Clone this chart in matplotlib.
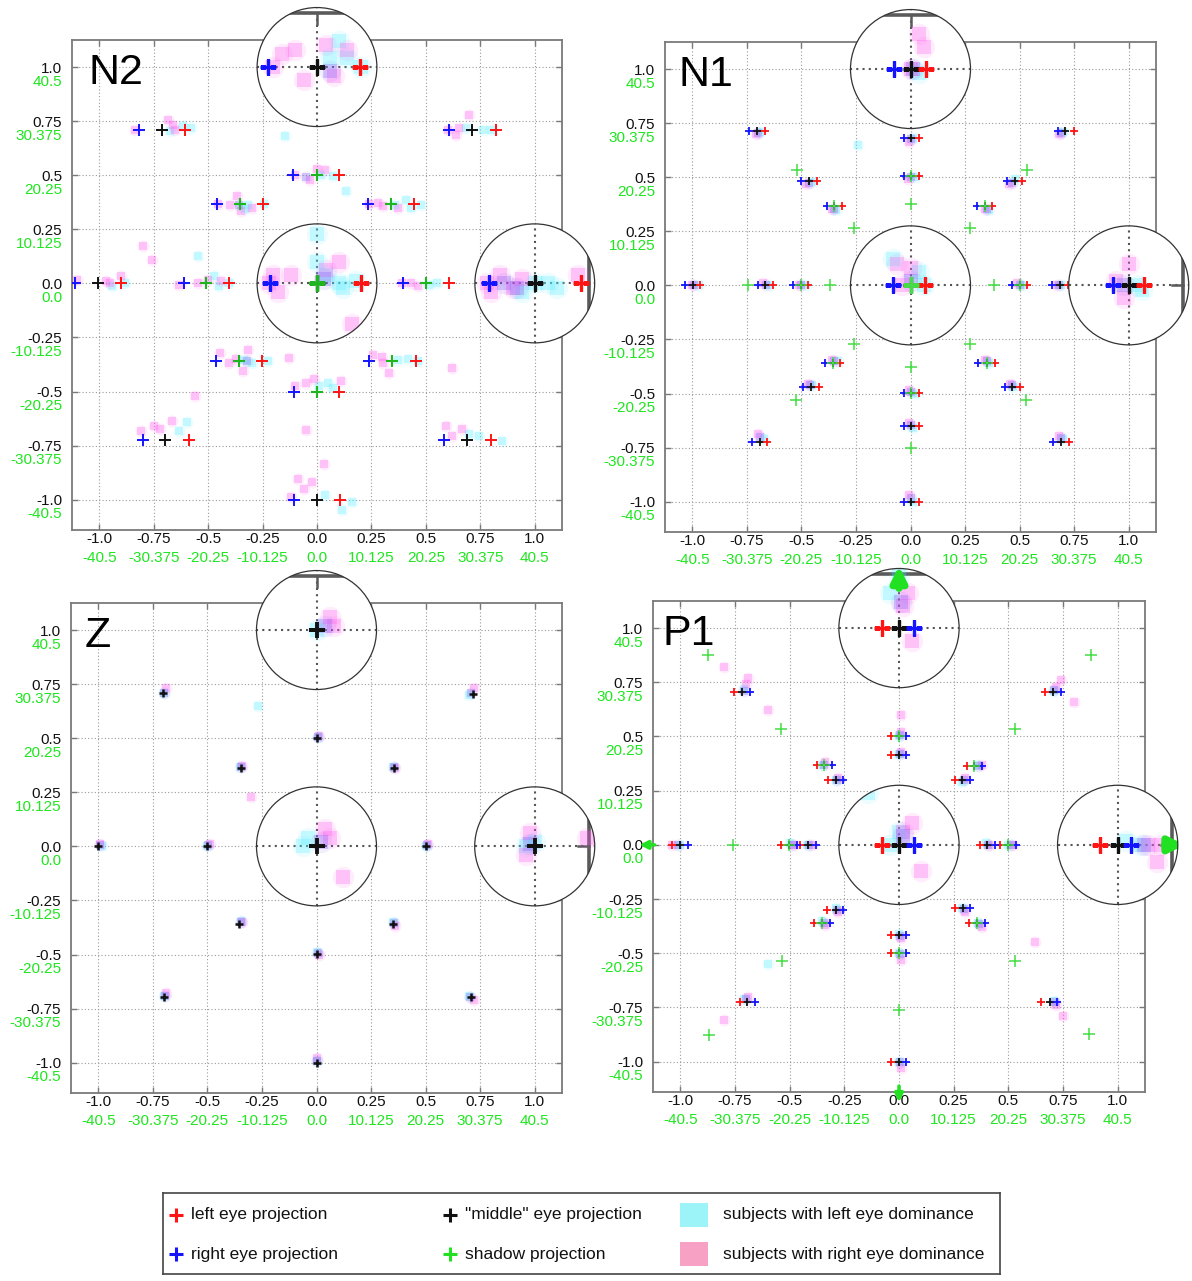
# Eye projection maps for the four disparity conditions (N2, N1, Z, P1)

import matplotlib
matplotlib.use('Agg')
import matplotlib.pyplot as plt
from matplotlib.patches import Circle, Rectangle, FancyArrowPatch
from matplotlib.transforms import offset_copy

plt.rcParams['font.family'] = ['Liberation Sans', 'DejaVu Sans']

W, H = 1192, 1281

TICKS = [-1.0, -0.75, -0.5, -0.25, 0.0, 0.25, 0.5, 0.75, 1.0]
TICK_LABELS = ['-1.0', '-0.75', '-0.5', '-0.25', '0.0', '0.25', '0.5', '0.75', '1.0']
DEG_LABELS = ['-40.5', '-30.375', '-20.25', '-10.125', '0.0', '10.125', '20.25', '30.375', '40.5']

XLIM = (-1.125, 1.125)
YLIM = (-1.14, 1.125)
LENS_CENTRES = [(0.0, 1.0), (0.0, 0.0), (1.0, 0.0)]
LENS_R = 0.275
MAG = 2.0

RED, BLUE, BLACK = '#ff1414', '#1414ff', '#111111'
TXT_GREEN = '#1fe61f'
CYAN, PINK, BOTH = '#55eeff', '#ff55ee', '#7a5cf5'

# ---------------- N2 ----------------
N2_MID = [(-1.005, 0), (-0.508, 0), (0, 0), (0.5, 0), (1.0, 0), (0, 1.0), (0, 0.5),
          (-0.353, 0.368), (0.338, 0.368), (-0.712, 0.707), (0.714, 0.707),
          (-0.359, -0.36), (0.345, -0.36), (0, -0.5), (-0.696, -0.724), (0.691, -0.724), (0, -1.0)]
N2_LEFT = [(-0.9, 0), (-0.402, 0), (0.1, 0), (0.608, 0), (1.106, 0), (0.099, 1.0), (0.103, 0.5),
           (-0.247, 0.368), (0.444, 0.368), (-0.605, 0.707), (0.822, 0.707),
           (-0.254, -0.36), (0.453, -0.36), (0.103, -0.5), (-0.589, -0.724), (0.797, -0.724), (0.107, -1.0)]
N2_RIGHT = [(-1.109, 0), (-0.61, 0), (-0.109, 0), (0.395, 0), (0.894, 0), (-0.113, 1.0), (-0.109, 0.5),
            (-0.458, 0.368), (0.236, 0.368), (-0.816, 0.707), (0.608, 0.707),
            (-0.465, -0.36), (0.237, -0.36), (-0.107, -0.5), (-0.8, -0.724), (0.585, -0.724), (-0.107, -1.0)]
N2_SHADOW = [(-0.508, 0), (0, 0), (0.5, 0), (0, 0.5), (-0.353, 0.368), (0.338, 0.368),
             (-0.359, -0.36), (0.345, -0.36), (0, -0.5)]
N2_CYAN = [(-0.615, 0.726), (-0.58, 0.718), (-0.677, 0.703), (0.682, 0.718), (0.762, 0.71), (0.797, 0.707),
           (-0.147, 0.68), (0.02, 0.502), (0.073, 0.495), (0.135, 0.425), (-0.315, 0.364), (-0.244, 0.368),
           (-0.33, 0.345), (0.356, 0.364), (0.479, 0.364), (0.409, 0.387), (0.43, 0.35), (-0.545, 0.125),
           (-0.942, -0.014), (-0.88, 0.0), (-0.474, 0.032), (-0.403, 0.0), (-0.45, -0.01), (0.515, -0.006),
           (0.55, 0.0), (-0.333, -0.352), (-0.227, -0.36), (-0.3, -0.37), (0.373, -0.352), (0.462, -0.36),
           (0.42, -0.35), (0.011, -0.475), (0.073, -0.482), (0.05, -0.46), (-0.633, -0.681), (-0.598, -0.643),
           (0.7, -0.697), (0.744, -0.704), (0.85, -0.727), (0.038, -0.98), (0.117, -1.049), (0.162, -1.01),
           (0.05, 1.06), (0.1, 1.0), (0.07, 1.02), (0.03, 1.02), (0.0, 0.05), (0.02, 0.02), (0.05, 0.0),
           (0.06, -0.01), (0.0, 0.115), (0.09, 0.005), (1.0, 0.0), (1.03, 0.0), (1.05, -0.01), (0.97, -0.02)]
N2_PINK = [(-0.835, 0.707), (-0.686, 0.757), (-0.65, 0.707), (-0.66, 0.73), (0.603, 0.707), (0.638, 0.687),
           (0.70, 0.78), (0.65, 0.72), (-0.103, 0.502), (-0.033, 0.479), (0.038, 0.525), (0.0, 0.53),
           (-0.456, 0.368), (-0.368, 0.402), (-0.35, 0.333), (-0.297, 0.348), (-0.4, 0.36), (0.241, 0.368),
           (0.303, 0.356), (0.373, 0.348), (0.28, 0.37), (-0.8, 0.171), (-0.756, 0.11), (-1.1, 0.017),
           (-0.95, 0.0), (-0.9, 0.032), (-0.97, 0.01), (-0.633, -0.006), (-0.545, 0.0), (-0.44, 0.01),
           (-0.5, 0.015), (0.391, 0.0), (0.462, -0.014), (0.43, 0.0), (-0.447, -0.32), (-0.403, -0.368),
           (-0.315, -0.306), (-0.341, -0.406), (-0.37, -0.35), (0.259, -0.329), (0.303, -0.368),
           (0.33, -0.413), (0.3, -0.34), (-0.103, -0.475), (-0.05, -0.46), (-0.015, -0.444), (0.108, -0.452),
           (-0.562, -0.52), (-0.13, -0.345), (0.62, -0.39), (-0.05, -0.68), (0.03, -0.835), (-0.809, -0.681),
           (-0.721, -0.674), (-0.668, -0.636), (-0.75, -0.66), (0.594, -0.658), (0.665, -0.674), (0.62, -0.704),
           (-0.121, -0.988), (-0.086, -0.903), (-0.024, -0.919), (-0.06, -0.95), (-0.1, 1.0), (-0.05, 1.04),
           (0.02, 1.05), (0.07, 1.04), (-0.03, 0.97), (0.04, 0.98), (-0.08, 1.03), (-0.11, 0.0), (-0.09, -0.02),
           (-0.06, 0.02), (0.02, 0.03), (0.05, 0.05), (0.08, -0.095), (-0.1, 0.02), (0.89, 0.0), (0.92, 0.02),
           (0.95, -0.01), (0.97, 0.01), (1.1, 0.02), (0.9, -0.02)]
N2_BOTH = [(0.015, 0.01), (0.96, -0.01), (0.03, 0.99), (-0.36, 0.36), (-0.05, 0.49), (-0.32, -0.36), (0.93, 0.0)]

# ---------------- N1 ----------------
N1_MID = [(-0.998, 0), (-0.665, 0), (-0.502, 0), (0, 0), (0.5, 0), (0.684, 0), (1.0, 0), (0, 1.0), (0, 0.681),
          (0, 0.505), (-0.705, 0.712), (0.71, 0.712), (-0.466, 0.484), (0.478, 0.484), (-0.35, 0.365),
          (0.341, 0.365), (-0.355, -0.359), (0.35, -0.359), (-0.457, -0.469), (0.466, -0.469), (0, -0.498),
          (0, -0.65), (-0.691, -0.724), (0.689, -0.724), (0, -1.0)]
N1_LEFT = [(-0.964, 0), (-0.629, 0), (-0.469, 0), (0.034, 0), (0.535, 0), (0.72, 0), (1.035, 0), (0.035, 1.0),
           (0.037, 0.681), (0.037, 0.505), (-0.669, 0.712), (0.747, 0.712), (-0.43, 0.484), (0.511, 0.484),
           (-0.315, 0.365), (0.375, 0.365), (-0.321, -0.359), (0.385, -0.359), (-0.42, -0.469), (0.502, -0.469),
           (0.037, -0.498), (0.037, -0.65), (-0.656, -0.724), (0.726, -0.724), (0.037, -1.0)]
N1_RIGHT = [(-1.033, 0), (-0.7, 0), (-0.539, 0), (-0.039, 0), (0.466, 0), (0.648, 0), (0.963, 0), (-0.037, 1.0),
            (-0.032, 0.681), (-0.032, 0.505), (-0.742, 0.712), (0.676, 0.712), (-0.5, 0.484), (0.443, 0.484),
            (-0.384, 0.365), (0.306, 0.365), (-0.391, -0.359), (0.311, -0.359), (-0.492, -0.469),
            (0.433, -0.469), (-0.032, -0.498), (-0.032, -0.65), (-0.726, -0.724), (0.653, -0.724), (-0.032, -1.0)]
N1_SHADOW = [(-0.745, 0), (-0.502, 0), (-0.37, 0), (0, 0), (0.383, 0), (0.5, 0), (0, 0.505), (-0.35, 0.365),
             (0.341, 0.365), (-0.355, -0.359), (0.35, -0.359), (0, -0.498), (-0.521, 0.532), (0.532, 0.532),
             (0, 0.376), (-0.261, 0.265), (0.271, 0.265), (-0.261, -0.271), (0.271, -0.271), (0, -0.379),
             (-0.526, -0.528), (0.528, -0.528), (0, -0.753)]
N1_CYAN = [(-0.69, 0.71), (0.70, 0.71), (0.01, 0.68), (0.02, 0.5), (-0.45, 0.48), (0.48, 0.49), (-0.34, 0.35),
           (0.36, 0.35), (-0.97, 0.0), (-0.65, 0.0), (-0.48, 0.0), (0.51, 0.0), (0.69, 0.0), (-0.33, -0.35),
           (0.36, -0.36), (-0.45, -0.46), (0.47, -0.47), (0.02, -0.5), (0.01, -0.66), (-0.67, -0.71),
           (0.70, -0.71), (0.01, -1.0), (-0.24, 0.65), (0.02, 0.99), (0.03, 0.0), (0.02, 0.03), (-0.04, 0.06),
           (1.02, 0.0), (1.03, -0.01)]
N1_PINK = [(-0.71, 0.70), (0.68, 0.70), (-0.005, 0.665), (-0.01, 0.49), (-0.48, 0.47), (0.45, 0.47),
           (-0.36, 0.355), (0.34, 0.355), (-1.0, 0.0), (-0.675, 0.01), (-0.51, 0.0), (0.49, 0.01), (0.665, 0.0),
           (-0.36, -0.345), (0.34, -0.345), (-0.47, -0.455), (0.455, -0.455), (-0.005, -0.485),
           (-0.005, -0.635), (-0.7, -0.685), (0.68, -0.695), (-0.005, -0.97), (0.0, 1.0), (0.03, 1.05),
           (0.02, 1.08), (-0.02, 0.0), (0.0, 0.04), (-0.03, 0.05), (0.97, 0.01), (1.0, 0.05), (0.99, -0.03)]
N1_BOTH = [(-0.70, 0.705), (0.69, 0.705), (0.0, 0.675), (0.0, 0.5), (-0.465, 0.475), (0.465, 0.475),
           (-0.35, 0.355), (0.35, 0.355), (-0.99, 0.0), (-0.66, 0.0), (-0.5, 0.0), (0.5, 0.0), (0.68, 0.0),
           (-0.35, -0.35), (0.35, -0.35), (-0.46, -0.46), (0.465, -0.46), (0.0, -0.495), (0.0, -0.645),
           (-0.69, -0.7), (0.69, -0.705), (0.0, -0.985), (0.005, 1.0), (0.0, 0.01), (0.99, 0.0)]

# ---------------- Z ----------------
Z_MID = [(-0.703, 0.709), (0.715, 0.706), (0, 0.503), (-0.346, 0.36), (0.353, 0.36), (-1.0, 0), (-0.5, 0),
         (0, 0), (0.503, 0), (1.0, 0), (0, 1.0), (-0.355, -0.36), (0.351, -0.36), (0, -0.499), (-0.7, -0.698),
         (0.71, -0.698), (0, -1.0)]
Z_CYAN = [(-0.7, 0.71), (0.7, 0.7), (0.005, 0.505), (-0.35, 0.365), (0.35, 0.365), (-0.985, 0.0), (-0.5, 0.0),
          (0.5, 0.0), (-0.345, -0.345), (0.35, -0.35), (0.0, -0.49), (-0.7, -0.69), (0.7, -0.69), (0.0, -0.99),
          (-0.27, 0.65), (0.0, 1.0), (-0.02, 0.02), (-0.03, 0.0), (1.0, 0.01), (0.98, 0.0)]
Z_PINK = [(-0.69, 0.73), (0.72, 0.73), (0.01, 0.51), (-0.34, 0.37), (0.36, 0.36), (-0.99, 0.01), (-0.49, 0.01),
          (0.51, 0.01), (-0.34, -0.35), (0.36, -0.37), (0.01, -0.5), (-0.69, -0.68), (0.72, -0.71), (0.0, -0.98),
          (-0.3, 0.23), (0.03, 1.03), (0.04, 1.01), (0.03, 0.02), (0.02, 0.04), (0.06, -0.07), (0.99, 0.03),
          (1.12, 0.02), (0.98, -0.02)]
Z_BOTH = [(-0.7, 0.71), (0.71, 0.71), (0.005, 0.505), (-0.345, 0.365), (0.355, 0.365), (-0.99, 0.005),
          (-0.495, 0.005), (0.505, 0.005), (-0.345, -0.35), (0.355, -0.355), (0.005, -0.495), (-0.695, -0.69),
          (0.705, -0.695), (0.0, -0.99), (0.02, 1.01), (0.01, 0.01), (0.99, 0.005)]

# ---------------- P1 ----------------
P1_MID = [(-1.0, 0), (-0.505, 0), (-0.414, 0), (0, 0), (0.404, 0), (0.5, 0), (1.0, 0), (0, 1.0), (0, 0.502),
          (0, 0.416), (-0.341, 0.37), (0.345, 0.362), (-0.289, 0.299), (0.289, 0.299), (-0.717, 0.707),
          (0.703, 0.707), (-0.29, -0.299), (0.291, -0.29), (-0.352, -0.36), (0.355, -0.362), (0, -0.416),
          (0, -0.5), (-0.694, -0.724), (0.689, -0.724), (0, -1.0)]
P1_LEFT = [(-1.036, 0), (-0.54, 0), (-0.451, 0), (-0.04, 0), (0.369, 0), (0.463, 0), (0.96, 0), (-0.04, 1.0),
           (-0.037, 0.502), (-0.037, 0.416), (-0.376, 0.37), (0.31, 0.362), (-0.324, 0.299), (0.254, 0.299),
           (-0.755, 0.707), (0.668, 0.707), (-0.327, -0.299), (0.254, -0.29), (-0.388, -0.36), (0.318, -0.362),
           (-0.037, -0.416), (-0.037, -0.5), (-0.729, -0.724), (0.651, -0.724), (-0.037, -1.0)]
P1_RIGHT = [(-0.965, 0), (-0.467, 0), (-0.38, 0), (0.035, 0), (0.44, 0), (0.536, 0), (1.03, 0), (0.035, 1.0),
            (0.034, 0.502), (0.034, 0.416), (-0.307, 0.37), (0.38, 0.362), (-0.255, 0.299), (0.324, 0.299),
            (-0.68, 0.707), (0.739, 0.707), (-0.257, -0.299), (0.324, -0.29), (-0.315, -0.36), (0.392, -0.362),
            (0.034, -0.416), (0.034, -0.5), (-0.659, -0.724), (0.724, -0.724), (0.034, -1.0)]
P1_SHADOW = [(-0.758, 0), (-0.505, 0), (0.5, 0), (0, 0.502), (-0.341, 0.37), (0.345, 0.362), (-0.352, -0.36),
             (0.355, -0.362), (0, -0.5), (-0.54, 0.533), (0.531, 0.536), (-0.875, 0.875), (0.878, 0.878),
             (-0.534, -0.537), (0.531, -0.537), (-0.871, -0.877), (0.87, -0.874), (0, -0.762)]
# shadows falling outside the screen, drawn as arrows (tail, head)
P1_SHADOW_OUT = [((-1.105, 0.0), (-1.2, 0.0)), ((0.0, -1.1), (0.0, -1.2)),
                 ((0.0, 1.085), (0.0, 1.15)), ((1.1, 0.0), (1.16, 0.0))]
P1_CYAN = [(-0.71, 0.72), (0.71, 0.71), (0.0, 0.5), (0.0, 0.42), (-0.35, 0.37), (-0.29, 0.30), (0.36, 0.37),
           (0.29, 0.29), (-1.0, 0.0), (-0.5, 0.01), (-0.42, 0.0), (0.40, 0.01), (0.5, 0.0), (-0.29, -0.29),
           (0.29, -0.29), (-0.35, -0.35), (0.36, -0.36), (0.0, -0.41), (0.0, -0.5), (-0.71, -0.71),
           (0.71, -0.72), (0.0, -1.0), (-0.6, -0.55), (-0.02, 0.0), (0.0, 0.03), (-0.07, 0.12), (-0.02, 1.08),
           (0.0, 1.12), (1.02, 0.01), (1.05, 0.0)]
P1_PINK = [(-0.7, 0.74), (-0.69, 0.77), (0.72, 0.73), (0.74, 0.76), (0.01, 0.52), (0.01, 0.43), (-0.34, 0.38),
           (-0.28, 0.31), (0.38, 0.37), (0.3, 0.31), (-1.04, 0.0), (-0.48, 0.0), (-0.4, 0.0), (0.41, 0.0),
           (0.52, 0.0), (-0.28, -0.31), (0.3, -0.31), (-0.34, -0.37), (0.38, -0.38), (0.01, -0.43),
           (0.01, -0.53), (-0.69, -0.7), (0.72, -0.74), (0.75, -0.79), (0.01, -1.03), (-0.8, 0.82),
           (0.8, 0.66), (-0.6, 0.62), (0.01, 0.6), (-0.8, -0.81), (0.62, -0.45), (0.01, 0.03), (0.03, 0.05),
           (0.05, -0.06), (0.01, 1.05), (0.02, 1.08), (0.03, 0.97), (1.1, 0.0), (1.07, 0.0), (1.09, -0.04)]
P1_BOTH = [(-0.71, 0.71), (0.71, 0.715), (0.005, 0.505), (0.005, 0.42), (-0.345, 0.37), (-0.285, 0.3),
           (0.36, 0.365), (0.295, 0.3), (-1.01, 0.0), (-0.49, 0.0), (-0.41, 0.0), (0.405, 0.0), (0.51, 0.0),
           (-0.285, -0.3), (0.295, -0.295), (-0.345, -0.36), (0.365, -0.365), (0.005, -0.42), (0.005, -0.505),
           (-0.7, -0.71), (0.715, -0.725), (0.005, -1.0), (0.01, 0.02), (0.005, 1.06), (1.06, 0.0)]

LEGEND_LABELS = ['left eye projection', 'right eye projection', '"middle" eye projection',
                 'shadow projection', 'subjects with left eye dominance', 'subjects with right eye dominance']


def near(pts, c, reach):
    out = []
    for x, y in pts:
        if (x - c[0]) ** 2 + (y - c[1]) ** 2 < reach ** 2:
            out.append((c[0] + MAG * (x - c[0]), c[1] + MAG * (y - c[1])))
    return out


def blobs(ax, pts, color, scale=1.0, z=2, **kw):
    if not pts:
        return
    x, y = zip(*pts)
    # soft halo + core, imitating the blurred density squares
    ax.scatter(x, y, s=75 * scale, marker='o', color=color, alpha=0.10, lw=0, zorder=z, **kw)
    ax.scatter(x, y, s=28 * scale, marker='s', color=color, alpha=0.28, lw=0, zorder=z + 0.1, **kw)


def crosses(ax, pts, color, ms, mew, z, **kw):
    if not pts:
        return
    x, y = zip(*pts)
    ax.plot(x, y, ls='none', marker='+', color=color, ms=ms, mew=mew, zorder=z, **kw)


def draw_panel(ax, name, lx, mid, left, right, shadow, cyan, pink, both, ms, mew,
               lens_ms, lens_mew, shadow_style, out_arrows=None):
    ax.set_autoscale_on(False)
    ax.set_xlim(*XLIM)
    ax.set_ylim(*YLIM)

    blobs(ax, cyan, CYAN)
    blobs(ax, pink, PINK)
    blobs(ax, both, BOTH)
    crosses(ax, mid, BLACK, ms, mew, 3)
    crosses(ax, shadow, shadow_style[0], shadow_style[1], shadow_style[2], 4)
    crosses(ax, left, RED, ms, mew, 3)
    crosses(ax, right, BLUE, ms, mew, 3)

    if out_arrows:
        for tail, head in out_arrows[:2]:
            ax.add_patch(FancyArrowPatch(tail, head, arrowstyle='-|>', mutation_scale=12, lw=2.5,
                                         color='#22e022', clip_on=False, zorder=6))

    ax.grid(True, ls=(0, (1, 2)), color='#9a9a9a', lw=0.8)
    ax.set_axisbelow(True)
    for s in ax.spines.values():
        s.set_color('#7a7a7a')
        s.set_linewidth(1.3)
    ax.set_xticks(TICKS, TICK_LABELS)
    ax.set_yticks(TICKS, TICK_LABELS)
    ax.tick_params(direction='in', length=4, width=1, color='#7a7a7a', top=True, right=True,
                   labelsize=11, labelcolor='#111111')
    ax.tick_params(axis='x', pad=1.5)
    ax.tick_params(axis='y', pad=7)

    fig = ax.figure
    xtr = offset_copy(ax.get_xaxis_transform(), fig=fig, x=0, y=-20, units='points')
    ytr = offset_copy(ax.get_yaxis_transform(), fig=fig, x=-7, y=-10.5, units='points')
    for v, lab in zip(TICKS, DEG_LABELS):
        ax.text(v, 0, lab, transform=xtr, ha='center', va='center', color=TXT_GREEN, fontsize=11)
        ax.text(0, v, lab, transform=ytr, ha='right', va='center', color=TXT_GREEN, fontsize=11)

    ax.text(lx, 0.91, name, transform=ax.transAxes, fontsize=31, va='baseline', ha='left',
            color='black', zorder=30)

    # magnifying lenses
    reach = LENS_R / MAG + 0.04
    for c in LENS_CENTRES:
        circ = Circle(c, LENS_R, facecolor='white', edgecolor='none', zorder=10, clip_on=False)
        ax.add_patch(circ)
        kw = dict(clip_path=circ)
        for t in TICKS:
            m = c[0] + MAG * (t - c[0])
            if abs(m - c[0]) < LENS_R:
                ax.plot([m, m], [c[1] - LENS_R, c[1] + LENS_R], ls=(0, (1, 2)), color='#555555',
                        lw=1.5, zorder=11, **kw)
            m = c[1] + MAG * (t - c[1])
            if abs(m - c[1]) < LENS_R:
                ax.plot([c[0] - LENS_R, c[0] + LENS_R], [m, m], ls=(0, (1, 2)), color='#555555',
                        lw=1.5, zorder=11, **kw)
        # frame of the screen, magnified
        for b in XLIM:
            m = c[0] + MAG * (b - c[0])
            if abs(m - c[0]) < LENS_R:
                ax.plot([m, m], [c[1] - LENS_R, c[1] + LENS_R], color='#5a5a5a', lw=2.6, zorder=11, **kw)
                ax.plot([m, m - 0.05 * (1 if b > 0 else -1)], [c[1], c[1]], color='#5a5a5a', lw=1.8,
                        zorder=11, **kw)
        for b in YLIM:
            m = c[1] + MAG * (b - c[1])
            if abs(m - c[1]) < LENS_R:
                ax.plot([c[0] - LENS_R, c[0] + LENS_R], [m, m], color='#5a5a5a', lw=2.6, zorder=11, **kw)
                ax.plot([c[0], c[0]], [m, m - 0.05 * (1 if b > 0 else -1)], color='#5a5a5a', lw=1.8,
                        zorder=11, **kw)
        blobs(ax, near(cyan, c, reach), CYAN, scale=3.2, z=11.2, **kw)
        blobs(ax, near(pink, c, reach), PINK, scale=3.2, z=11.2, **kw)
        blobs(ax, near(both, c, reach), BOTH, scale=3.2, z=11.2, **kw)
        crosses(ax, near(mid, c, reach), BLACK, lens_ms, lens_mew, 12, **kw)
        crosses(ax, near(shadow, c, reach), shadow_style[0], lens_ms, lens_mew, 12.5, **kw)
        crosses(ax, near(left, c, reach), RED, lens_ms, lens_mew, 12, **kw)
        crosses(ax, near(right, c, reach), BLUE, lens_ms, lens_mew, 12, **kw)
        if out_arrows:
            for tail, head in out_arrows[2:]:
                if (tail[0] - c[0]) ** 2 + (tail[1] - c[1]) ** 2 < reach ** 2:
                    t2 = (c[0] + MAG * (tail[0] - c[0]), c[1] + MAG * (tail[1] - c[1]))
                    h2 = (c[0] + MAG * (head[0] - c[0]), c[1] + MAG * (head[1] - c[1]))
                    ax.add_patch(FancyArrowPatch(t2, h2, arrowstyle='-|>', mutation_scale=22, lw=5,
                                                 color='#22e022', zorder=13, **kw))
        ax.add_patch(Circle(c, LENS_R, fill=False, edgecolor='#333333', lw=0.9, zorder=14,
                            clip_on=False))


fig = plt.figure(figsize=(W / 100, H / 100), dpi=100)


def px_axes(l, t, r, b):
    return fig.add_axes([l / W, 1 - b / H, (r - l) / W, (b - t) / H])


ax_n2 = px_axes(72, 40, 562, 530)
ax_n1 = px_axes(665, 42, 1156, 532)
ax_z = px_axes(71, 603, 562, 1093)
ax_p1 = px_axes(653, 601, 1145, 1092)

draw_panel(ax_n2, 'N2', 0.033, N2_MID, N2_LEFT, N2_RIGHT, N2_SHADOW, N2_CYAN, N2_PINK, N2_BOTH,
           8, 1.4, 12, 2.4, ('#1fb51f', 9, 1.5))
draw_panel(ax_n1, 'N1', 0.028, N1_MID, N1_LEFT, N1_RIGHT, N1_SHADOW, N1_CYAN, N1_PINK, N1_BOTH,
           6, 1.3, 11, 2.4, ('#44dd44', 9, 1.1))
draw_panel(ax_z, 'Z', 0.028, Z_MID, [], [], [], Z_CYAN, Z_PINK, Z_BOTH,
           6, 1.8, 12, 2.8, ('#44dd44', 9, 1.1))
draw_panel(ax_p1, 'P1', 0.02, P1_MID, P1_LEFT, P1_RIGHT, P1_SHADOW, P1_CYAN, P1_PINK, P1_BOTH,
           6, 1.3, 11, 2.4, ('#44dd44', 9, 1.1), out_arrows=P1_SHADOW_OUT)

# legend box
lg = px_axes(163, 1193, 1000, 1274)
lg.set_xlim(0, 837)
lg.set_ylim(81, 0)
lg.set_xticks([])
lg.set_yticks([])
for s in lg.spines.values():
    s.set_color('#444444')
    s.set_linewidth(1.2)
marks = [(13, 22, RED), (13, 61, BLUE), (287, 22, BLACK), (287, 61, '#22e022')]
for (x, y, col), lab in zip(marks, LEGEND_LABELS[:4]):
    lg.plot([x], [y], marker='+', color=col, ms=10, mew=2.2)
    lg.text(x + 15, y, lab, va='center', ha='left', fontsize=12.5, color='#111111')
for (y, col), lab in zip([(22, '#9cf3f8'), (61, '#f7a1c5')], LEGEND_LABELS[4:]):
    lg.add_patch(Rectangle((517, y - 12), 28, 24, color=col, lw=0))
    lg.text(560, y, lab, va='center', ha='left', fontsize=12.5, color='#111111')

fig.savefig('out.png', dpi=100)
